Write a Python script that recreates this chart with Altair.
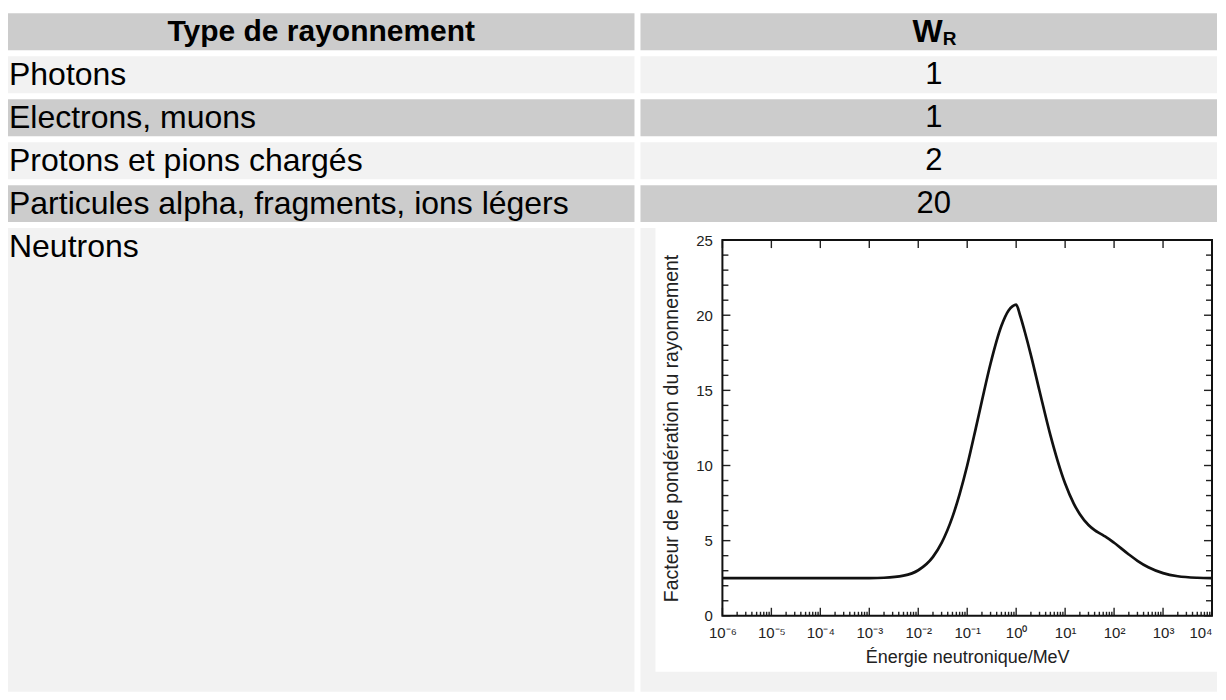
import altair as alt
import pandas as pd

# ---------------- data ----------------
row_labels = [
    "Type de rayonnement",
    "Photons",
    "Electrons, muons",
    "Protons et pions chargés",
    "Particules alpha, fragments, ions légers",
]
wr_values = ["W", "1", "1", "2", "20"]
wr_header_sub = "R"
neutron_label = "Neutrons"

energy_mev = [1e-6, 1e-5, 1e-4, 1e-3, 2e-3, 5e-3, 1e-2, 2e-2, 3e-2, 5e-2, 7e-2,
              0.1, 0.15, 0.2, 0.3, 0.5, 0.7, 0.85, 1.0, 1.2, 1.5, 2, 3, 5, 7,
              10, 15, 20, 30, 40, 50, 60, 70, 100, 200, 300, 500, 1000, 2000, 5000, 1e4]
w_r = [2.5, 2.5, 2.5, 2.51, 2.53, 2.67, 3.03, 3.92, 4.85, 6.58, 8.1,
       10.0, 12.49, 14.31, 16.79, 19.3, 20.32, 20.6, 20.7, 20.0, 18.9, 17.35, 14.96, 12.02, 10.33,
       8.8, 7.47, 6.76, 6.04, 5.7, 5.5, 5.35, 5.22, 4.86, 4.08, 3.66, 3.23, 2.84, 2.63, 2.53, 2.51]

x_decades = [1e-6, 1e-5, 1e-4, 1e-3, 1e-2, 1e-1, 1e0, 1e1, 1e2, 1e3, 1e4]
x_minor = [m * d for d in x_decades[:-1] for m in range(2, 10)]
y_major = [0, 5, 10, 15, 20, 25]
y_minor = [v for v in range(26) if v % 5]

# ---------------- style ----------------
FONT = "Liberation Sans, Arial, Helvetica, sans-serif"
GRAY = "#cccccc"
LIGHT = "#f2f2f2"
LEFT_W = 627
RIGHT_W = 577
TABLE_H = 209
NEUT_H = 464
PW, PH = 490, 376
TOP_OFF = 12          # neutrons row starts this far above the plot frame
FS = 30               # header / value font size
FS_ROW = 32           # row label font size

tbl = pd.DataFrame({"row": row_labels, "wr": wr_values, "idx": list(range(len(row_labels)))})
yband = alt.Scale(paddingInner=6 / 43, paddingOuter=0)
Y = alt.Y("row:N", sort=row_labels, scale=yband, axis=None)
base = alt.Chart(tbl).transform_calculate(par="datum.idx % 2")


def cells(width):
    return base.mark_rect().encode(
        y=Y, x=alt.value(0), x2=alt.value(width),
        color=alt.Color("par:N", scale=alt.Scale(domain=[0, 1], range=[GRAY, LIGHT]), legend=None),
    )


left_col = alt.layer(
    cells(LEFT_W),
    base.transform_filter("datum.idx == 0").mark_text(
        font=FONT, fontSize=FS, fontWeight="bold", align="center", baseline="middle", dy=0, color="#000"
    ).encode(y=Y, x=alt.value(LEFT_W / 2), text="row:N"),
    base.transform_filter("datum.idx > 0").mark_text(
        font=FONT, fontSize=FS_ROW, align="left", baseline="middle", dy=0, color="#000"
    ).encode(y=Y, x=alt.value(1), text="row:N"),
).properties(width=LEFT_W, height=TABLE_H)

sub_df = pd.DataFrame({"row": [row_labels[0]], "t": [wr_header_sub]})
W_X = RIGHT_W / 2 + 14
right_col = alt.layer(
    cells(RIGHT_W),
    base.transform_filter("datum.idx == 0").mark_text(
        font=FONT, fontSize=FS + 2, fontWeight="bold", align="right", baseline="middle", dy=0, color="#000"
    ).encode(y=Y, x=alt.value(W_X), text="wr:N"),
    alt.Chart(sub_df).mark_text(
        font=FONT, fontSize=19, fontWeight="bold", align="left", baseline="middle", dy=7, color="#000"
    ).encode(y=Y, x=alt.value(W_X), text="t:N"),
    base.transform_filter("datum.idx > 0").mark_text(
        font=FONT, fontSize=FS + 1, align="center", baseline="middle", dy=0, color="#000"
    ).encode(y=Y, x=alt.value(RIGHT_W / 2 + 5), text="wr:N"),
).properties(width=RIGHT_W, height=TABLE_H)

top_row = alt.hconcat(left_col, right_col, spacing=6)

# ---------------- neutrons row ----------------
ndf = pd.DataFrame({"t": [neutron_label]})
neut_left = alt.layer(
    alt.Chart(ndf).mark_rect(color=LIGHT).encode(
        x=alt.value(0), x2=alt.value(LEFT_W), y=alt.value(-TOP_OFF), y2=alt.value(NEUT_H - TOP_OFF)
    ),
    alt.Chart(ndf).mark_text(font=FONT, fontSize=FS_ROW, align="left", baseline="middle", dy=0, color="#000").encode(
        x=alt.value(1), y=alt.value(18.5 - TOP_OFF), text="t:N"
    ),
).properties(width=LEFT_W, height=PH)

curve = pd.DataFrame({"E": energy_mev, "W": w_r})
xs = alt.Scale(type="log", domain=[1e-6, 1e4], nice=False)
ys = alt.Scale(domain=[0, 25], nice=False, zero=True)

sup = "'\u2070\u00b9\u00b2\u00b3\u2074\u2075\u2076\u2077\u2078\u2079'"
p = "round(log(datum.value)/LN10)"
label_expr = f"'10' + ({p} < 0 ? '\u207b' : '') + substring({sup}, abs({p}), abs({p}) + 1)"

X_AXIS = alt.Axis(
    values=x_decades, labelExpr=label_expr, ticks=False, domain=False, grid=False,
    labelFont=FONT, labelFontSize=15, labelColor="#222222", labelPadding=10,
    labelFlush=False, labelOverlap=False,
    labelAlign={"condition": {"test": "datum.value >= 10000", "value": "right"}, "value": "center"},
    title="Énergie neutronique/MeV", titleFont=FONT, titleFontSize=18,
    titleFontWeight="normal", titleColor="#222222", titlePadding=8, zindex=1)
Y_AXIS = alt.Axis(
    values=y_major, ticks=False, domain=False, grid=False,
    labelFont=FONT, labelFontSize=15, labelColor="#222222", labelPadding=10,
    title="Facteur de pondération du rayonnement", titleFont=FONT, titleFontSize=19.5,
    titleFontWeight="normal", titleColor="#222222", titlePadding=14, zindex=1)

dummy = pd.DataFrame({"a": [0]})
bg_gray = alt.Chart(dummy).mark_rect(color=LIGHT).encode(
    x=alt.value(-82), x2=alt.value(PW + 5), y=alt.value(-TOP_OFF), y2=alt.value(NEUT_H - TOP_OFF)
)
bg_white = alt.Chart(dummy).mark_rect(color="#ffffff").encode(
    x=alt.value(-67), x2=alt.value(PW + 5), y=alt.value(-TOP_OFF), y2=alt.value(PH + 56)
)

line = alt.Chart(curve).mark_line(color="#111111", strokeWidth=2.7, interpolate="monotone").encode(
    x=alt.X("E:Q", scale=xs, axis=X_AXIS),
    y=alt.Y("W:Q", scale=ys, axis=Y_AXIS),
)


def xticks(vals, y0, y1):
    return alt.Chart(pd.DataFrame({"E": vals})).mark_rule(color="#222222", strokeWidth=1.4).encode(
        x=alt.X("E:Q", scale=xs, axis=X_AXIS), y=alt.value(y0), y2=alt.value(y1)
    )


def yticks(vals, x0, x1):
    return alt.Chart(pd.DataFrame({"W": vals})).mark_rule(color="#222222", strokeWidth=1.4).encode(
        y=alt.Y("W:Q", scale=ys, axis=Y_AXIS), x=alt.value(x0), x2=alt.value(x1)
    )


frame = alt.Chart(dummy).mark_rect(fill=None, stroke="#111111", strokeWidth=2).encode(
    x=alt.value(0), x2=alt.value(PW), y=alt.value(0), y2=alt.value(PH)
)

plot = alt.layer(
    bg_gray, bg_white, line,
    xticks(x_decades, PH, PH - 8), xticks(x_minor, PH, PH - 4), xticks(x_decades, 0, 8),
    yticks(y_major, 0, 8), yticks(y_minor, 0, 6), yticks(y_major, PW, PW - 8), yticks(y_minor, PW, PW - 6),
    frame,
).properties(width=PW, height=PH)

bottom_row = alt.hconcat(neut_left, plot, spacing=6)

chart = alt.vconcat(top_row, bottom_row, spacing=6).properties(
    padding={"left": 0, "top": 5, "right": 0, "bottom": 0}, background="white"
).configure_view(stroke=None)

chart.save("out.html", embed_options={"renderer": "svg", "actions": False})
